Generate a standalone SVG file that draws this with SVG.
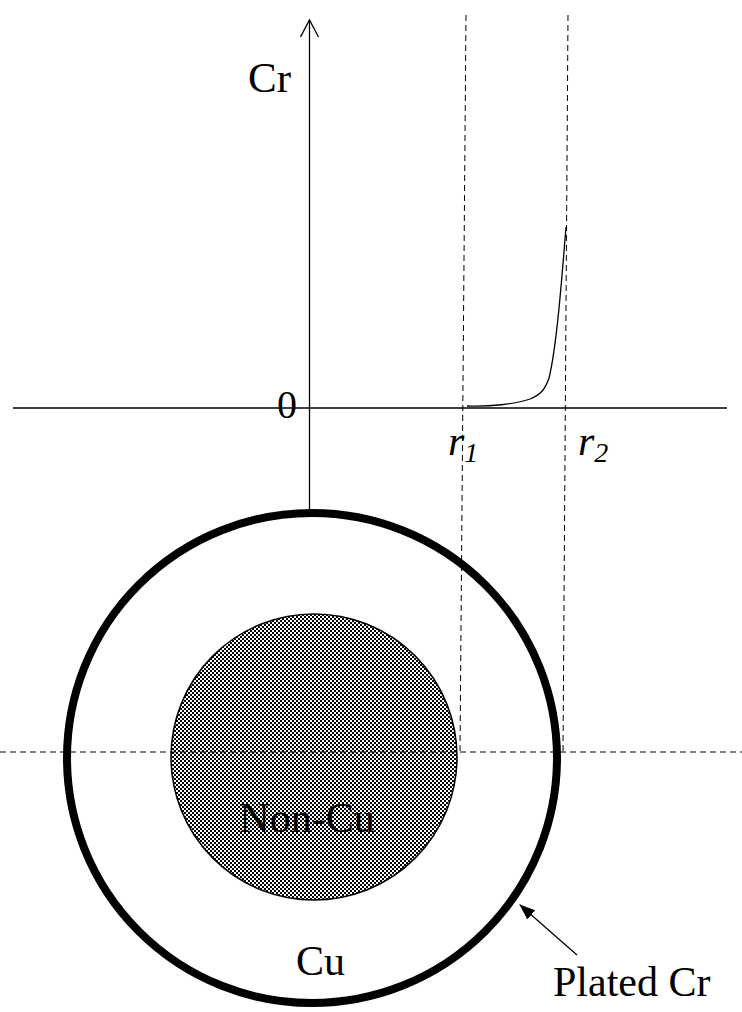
<svg xmlns="http://www.w3.org/2000/svg" width="742" height="1012" viewBox="0 0 742 1012">
<style>
.ax{stroke:#000;stroke-width:1.3;fill:none}
.dash{stroke:#000;stroke-width:1;fill:none;stroke-dasharray:6 4}
.t{font-family:"Liberation Serif",serif;fill:#000}
</style>
<defs>
<pattern id="chk" width="4" height="4" patternUnits="userSpaceOnUse">
<rect width="4" height="4" fill="#fff"/>
<rect width="2" height="2" fill="#000"/>
<rect x="2" y="2" width="2" height="2" fill="#000"/>
</pattern>
<marker id="ah" markerWidth="16" markerHeight="12" refX="15" refY="6" orient="auto" markerUnits="userSpaceOnUse" viewBox="0 0 16 12">
<path d="M0,0 L16,6 L0,12 Z" fill="#000"/>
</marker>
<marker id="open" markerWidth="20" markerHeight="20" refX="18" refY="10" orient="auto" markerUnits="userSpaceOnUse" viewBox="0 0 20 20">
<path d="M1,1 L18,10 L1,19" fill="none" stroke="#000" stroke-width="1.3"/>
</marker>
</defs>
<rect width="742" height="1012" fill="#fff"/>
<g id="wire">
<circle id="outer" cx="312" cy="758" r="245" fill="#fff" stroke="#000" stroke-width="8"/>
<circle id="core" cx="314" cy="757" r="143" fill="url(#chk)" stroke="#000" stroke-width="1.5"/>
</g>
<g id="connectors">
<line class="ax" x1="13" y1="408" x2="727" y2="408"/>
<line class="ax" x1="309.5" y1="512" x2="309.5" y2="20" marker-end="url(#open)"/>
<line class="dash" x1="0" y1="752" x2="742" y2="752"/>
<line class="dash" x1="466" y1="15" x2="460" y2="752"/>
<line class="dash" x1="568" y1="15" x2="563" y2="752"/>
<path class="ax" d="M467,406 C490,407 515,404 530,399 C540,395 545,390 549,378 C556,350 561,290 566,227"/>
<line x1="577" y1="955" x2="520" y2="905" stroke="#000" stroke-width="1.3" marker-end="url(#ah)"/>
</g>
<g id="labels">
<text class="t" x="248" y="92" font-size="43">Cr</text>
<text class="t" x="277" y="418" font-size="40">0</text>
<text class="t" x="448" y="455" font-size="42" font-style="italic">r<tspan font-size="28" dy="7">1</tspan></text>
<text class="t" x="578" y="455" font-size="42" font-style="italic">r<tspan font-size="28" dy="7">2</tspan></text>
<text class="t" x="307" y="832" font-size="42" text-anchor="middle">Non-Cu</text>
<text class="t" x="296" y="975" font-size="42">Cu</text>
<text class="t" x="553" y="996" font-size="42">Plated Cr</text>
</g>
</svg>
